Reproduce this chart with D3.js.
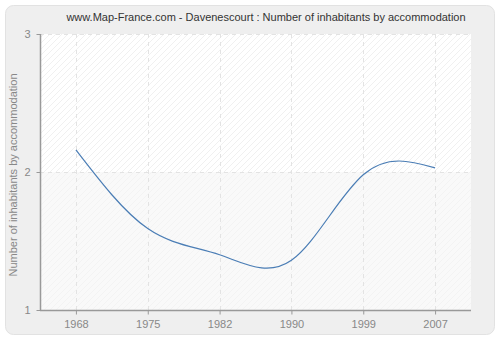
<!DOCTYPE html>
<html><head><meta charset="utf-8">
<script src="https://cdn.jsdelivr.net/npm/d3@7"></script>
<style>body{margin:0;background:#fff}svg{display:block;font-family:"Liberation Sans",Arial,sans-serif}</style>
</head><body><svg id="c" width="500" height="340"></svg>
<script>
const years = ["1968","1975","1982","1990","1999","2007"];
const values = [2.16, 1.59, 1.40, 1.36, 1.98, 2.03];
const yTicks = [1, 2, 3];
const title = "www.Map-France.com - Davenescourt : Number of inhabitants by accommodation";
const yLabel = "Number of inhabitants by accommodation";
const FONT = "'Liberation Sans',Arial,sans-serif";

const svg = d3.select("#c");
const L = 40, R = 471, T = 34, B = 310;

svg.append("rect").attr("x",5.5).attr("y",5.5).attr("width",489).attr("height",329)
  .attr("rx",8).attr("fill","#efefef").attr("stroke","#e2e2e2");

const defs = svg.append("defs");
const pat = defs.append("pattern").attr("id","hatch").attr("patternUnits","userSpaceOnUse")
  .attr("width",6).attr("height",6);
pat.append("rect").attr("width",6).attr("height",6).attr("fill","#ffffff");
pat.append("path").attr("d","M-1,7 L7,-1 M-4,4 L4,-4 M2,10 L10,2").attr("stroke","#ececec").attr("stroke-width",0.8);
const pat2 = defs.append("pattern").attr("id","hatch2").attr("patternUnits","userSpaceOnUse")
  .attr("width",6).attr("height",6);
pat2.append("rect").attr("width",6).attr("height",6).attr("fill","#f9f9f9");
pat2.append("path").attr("d","M-1,7 L7,-1 M-4,4 L4,-4 M2,10 L10,2").attr("stroke","#f1f1f1").attr("stroke-width",0.8);

const x = d3.scalePoint().domain(years).range([L, R]).padding(0.5);
const y = d3.scaleLinear().domain([1, 3]).range([B, T]);

svg.append("rect").attr("x",L).attr("y",T).attr("width",R-L).attr("height",y(2)-T).attr("fill","url(#hatch)");
svg.append("rect").attr("x",L).attr("y",y(2)).attr("width",R-L).attr("height",B-y(2)).attr("fill","url(#hatch2)");

// grid
const g = svg.append("g");
years.forEach(yr => g.append("line").attr("x1",Math.round(x(yr))+0.5).attr("x2",Math.round(x(yr))+0.5)
  .attr("y1",T).attr("y2",B).attr("stroke","#e3e3e3").attr("stroke-dasharray","4,4"));
yTicks.slice(1).forEach(v => g.append("line").attr("x1",L).attr("x2",R)
  .attr("y1",Math.round(y(v))+0.5).attr("y2",Math.round(y(v))+0.5).attr("stroke","#e3e3e3").attr("stroke-dasharray","4,4"));

// axes
const xa = svg.append("g").attr("transform",`translate(0,${B+0.5})`)
  .call(d3.axisBottom(x).tickSize(4).tickPadding(6));
const ya = svg.append("g").attr("transform",`translate(${L+0.5},0)`)
  .call(d3.axisLeft(y).tickValues(yTicks).tickFormat(d3.format("d")).tickSize(4).tickPadding(6));
[xa, ya].forEach(a => {
  a.select(".domain").attr("stroke","#999").attr("stroke-width",1.5);
  a.selectAll(".tick line").attr("stroke","#999");
  a.selectAll("text").attr("fill","#888").attr("font-size",11).attr("font-family",FONT);
});
xa.select(".domain").attr("d",`M${L},0H${R}`);
ya.select(".domain").attr("d",`M0,${T}V${B}`);

const line = d3.line().x((d,i)=>x(years[i])).y(d=>y(d)).curve(d3.curveNatural);
svg.append("path").datum(values).attr("d",line).attr("fill","none")
  .attr("stroke","#4a7db5").attr("stroke-width",1.2);

svg.append("text").attr("x",266).attr("y",21).attr("text-anchor","middle")
  .attr("font-size",11).attr("fill","#333").attr("font-family",FONT).text(title);
svg.append("text").attr("transform",`translate(17,${(T+B)/2+3}) rotate(-90)`).attr("text-anchor","middle")
  .attr("font-size",11).attr("fill","#888").attr("font-family",FONT).text(yLabel);
</script></body></html>
